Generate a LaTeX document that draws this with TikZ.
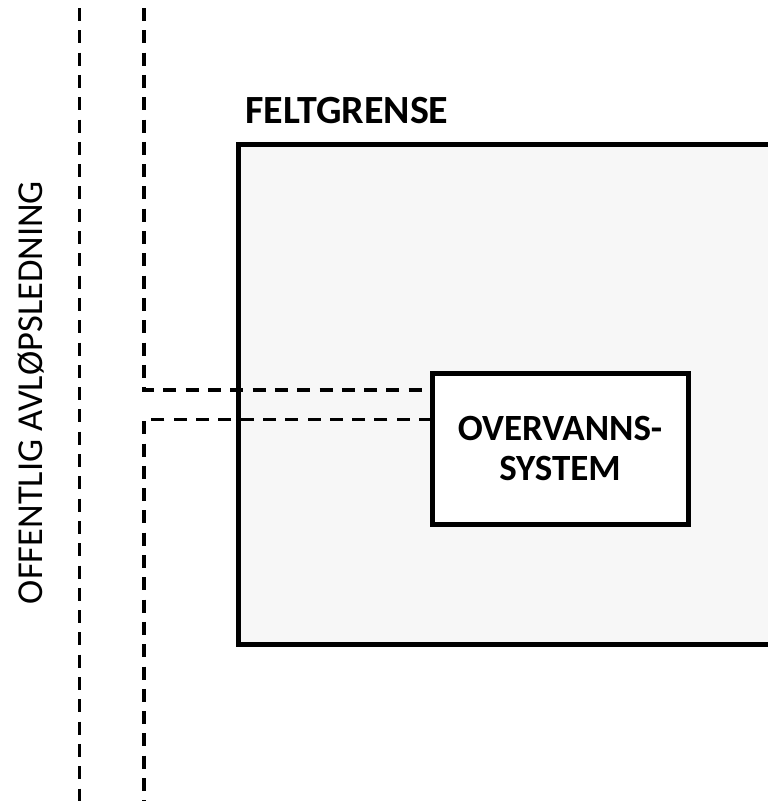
\documentclass[tikz,border=0pt]{standalone}
\usepackage{fontspec}
\setmainfont{Carlito}
\usepackage{xcolor}
\usepackage{tikz}
\usetikzlibrary{positioning}
\definecolor{feltgrey}{HTML}{F7F7F7}

\begin{document}
\begin{tikzpicture}[x=1pt, y=-1pt,
  field/.style={draw, line width=5pt, fill=feltgrey, outer sep=0pt, inner sep=0pt, minimum width=562pt, minimum height=500pt},
  sysbox/.style={draw, line width=5pt, fill=white, outer sep=0pt, align=center, minimum width=256pt, minimum height=151pt,
    font=\fontsize{37}{40}\selectfont\bfseries},
  pipe/.style={line width=3.3pt, dash pattern=on 13pt off 9.3pt}]
\useasboundingbox (0,0) rectangle (768,801);
\clip (0,0) rectangle (768,801);
% field boundary and the stormwater system inside it
\node[field, anchor=north west] (felt) at (238,144) {};
\node[anchor=base west, font=\fontsize{40}{48}\selectfont\bfseries] (feltlbl) at (242,123) {FELTGRENSE};
\node[sysbox] (system) at (560,448.5) {OVERVANNS-\\SYSTEM};
% public sewer main
\node[rotate=90, anchor=base, font=\fontsize{36.5}{44}\selectfont] (sewerlbl) at (42,392.5) {OFFENTLIG AVLØPSLEDNING};
\coordinate (mainL) at (79.5,8);
\coordinate (mainLend) at (79.5,801);
\coordinate (mainR) at (144,8);
\coordinate (mainRend) at (144,801);
\draw[pipe] (mainL) -- (mainLend);
\draw[pipe] (mainR) |- ([yshift=-17pt]system.north west);
\draw[pipe] ([yshift=-46.3pt]system.north west) -| (mainRend);
\end{tikzpicture}
\end{document}
